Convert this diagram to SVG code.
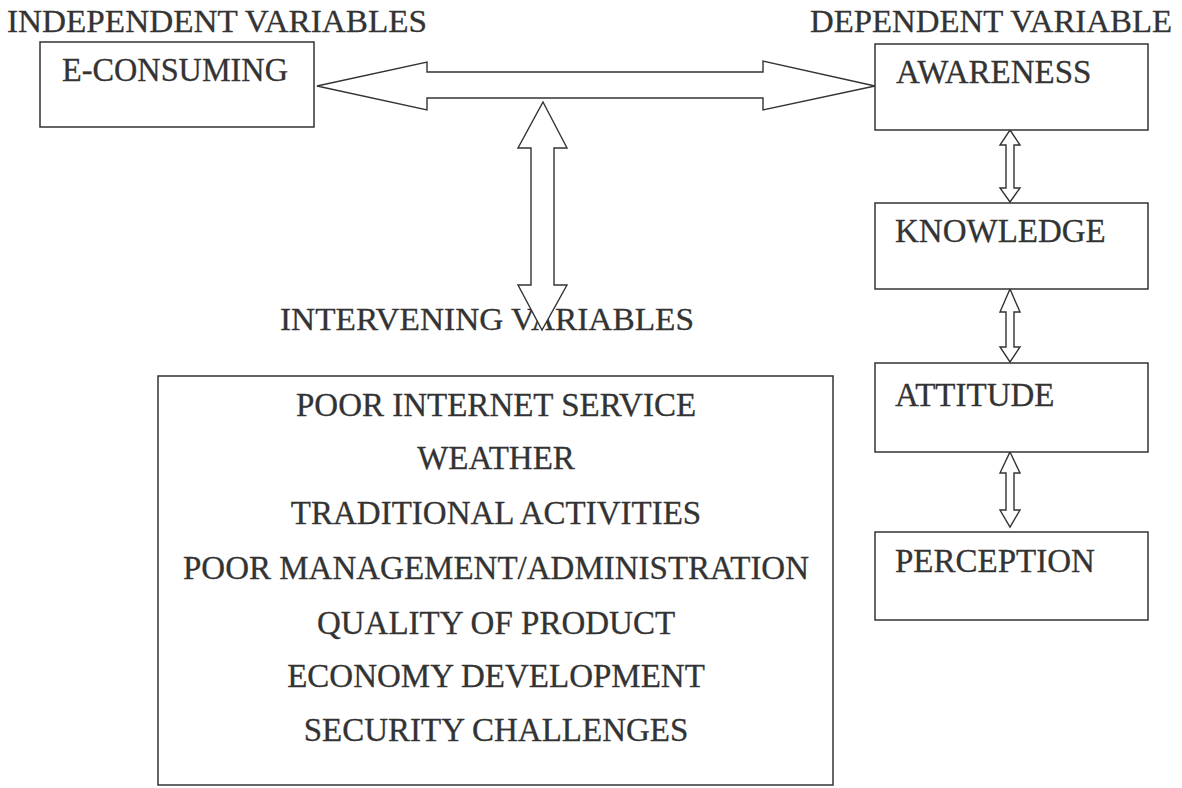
<svg xmlns="http://www.w3.org/2000/svg" width="1182" height="788" viewBox="0 0 1182 788">
  <style>
    .box { fill: #ffffff; stroke: #333333; stroke-width: 1.5; }
    .arrow { fill: #ffffff; stroke: #333333; stroke-width: 1.4; stroke-linejoin: miter; }
    .label { font-family: "Liberation Serif", "Times New Roman", serif; font-size: 33px; fill: #333333; stroke: #333333; stroke-width: 0.3; }
    .heading { font-family: "Liberation Serif", "Times New Roman", serif; font-size: 32px; fill: #333333; stroke: #333333; stroke-width: 0.3; }
    .mid { text-anchor: middle; }
  </style>

  <rect width="1182" height="788" fill="#ffffff"/>

  <!-- section headings -->
  <g id="headings">
    <text class="heading" x="7" y="32" textLength="420" lengthAdjust="spacingAndGlyphs">INDEPENDENT VARIABLES</text>
    <text class="heading" x="810" y="32" textLength="362" lengthAdjust="spacingAndGlyphs">DEPENDENT VARIABLE</text>
    <text class="heading" x="280" y="330" textLength="414" lengthAdjust="spacingAndGlyphs">INTERVENING VARIABLES</text>
  </g>

  <!-- block double arrows -->
  <g id="connectors">
    <!-- E-CONSUMING <-> AWARENESS -->
    <path class="arrow" d="M317,86 L427,62 L427,72 L763,72 L763,61 L875,86 L763,110 L763,98 L427,98 L427,110 Z"/>
    <!-- main link <-> intervening variables -->
    <path class="arrow" d="M543,102 L567,148 L554,148 L554,285 L567,285 L542,330 L518,285 L531,285 L531,148 L518,148 Z"/>
    <!-- AWARENESS <-> KNOWLEDGE -->
    <path class="arrow" d="M1010,130 L1020,145 L1014,145 L1014,188 L1020,188 L1010,202 L1000,188 L1006,188 L1006,145 L1000,145 Z"/>
    <!-- KNOWLEDGE <-> ATTITUDE -->
    <path class="arrow" d="M1010,289 L1020,312 L1014,312 L1014,347 L1020,347 L1010,362 L1000,347 L1006,347 L1006,312 L1000,312 Z"/>
    <!-- ATTITUDE <-> PERCEPTION -->
    <path class="arrow" d="M1010,452 L1020,473 L1014,473 L1014,510 L1020,510 L1010,527 L1000,510 L1006,510 L1006,473 L1000,473 Z"/>
  </g>

  <g id="e-consuming">
    <rect class="box" x="40" y="42" width="274" height="85"/>
    <text class="label" x="62" y="81" textLength="226" lengthAdjust="spacingAndGlyphs">E-CONSUMING</text>
  </g>

  <g id="awareness">
    <rect class="box" x="875" y="44" width="273" height="86"/>
    <text class="label" x="896" y="83">AWARENESS</text>
  </g>

  <g id="knowledge">
    <rect class="box" x="875" y="203" width="273" height="86"/>
    <text class="label" x="895" y="242">KNOWLEDGE</text>
  </g>

  <g id="attitude">
    <rect class="box" x="875" y="363" width="273" height="89"/>
    <text class="label" x="895" y="406">ATTITUDE</text>
  </g>

  <g id="perception">
    <rect class="box" x="875" y="532" width="273" height="88"/>
    <text class="label" x="895" y="572">PERCEPTION</text>
  </g>

  <g id="intervening-variables">
    <rect class="box" x="158" y="376" width="675" height="409"/>
    <text class="label mid" x="496" y="416">POOR INTERNET SERVICE</text>
    <text class="label mid" x="496" y="469">WEATHER</text>
    <text class="label mid" x="496" y="524">TRADITIONAL ACTIVITIES</text>
    <text class="label mid" x="496" y="579">POOR MANAGEMENT/ADMINISTRATION</text>
    <text class="label mid" x="496" y="634">QUALITY OF PRODUCT</text>
    <text class="label mid" x="496" y="687">ECONOMY DEVELOPMENT</text>
    <text class="label mid" x="496" y="741">SECURITY CHALLENGES</text>
  </g>
</svg>
